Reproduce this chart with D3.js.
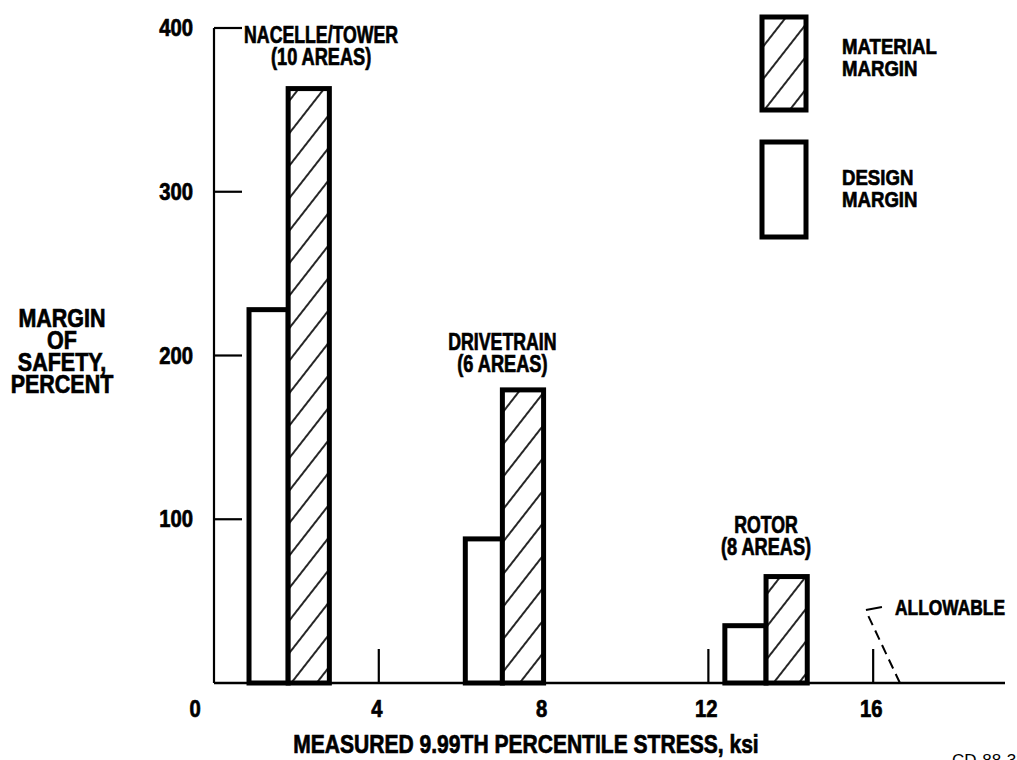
<!DOCTYPE html>
<html>
<head>
<meta charset="utf-8">
<script src="https://cdn.jsdelivr.net/npm/d3@7"></script>
<style>
  html, body { margin: 0; padding: 0; background: #fff; }
  svg { display: block; }
  .lbl { font-family: "Liberation Sans", Arial, sans-serif; font-weight: bold; fill: #000; stroke: #000; stroke-width: 0.7; }
</style>
</head>
<body>
<svg id="chart" width="1017" height="760"></svg>
<script>
// ---- data ----
const groups = ["NACELLE/TOWER", "DRIVETRAIN", "ROTOR"];
const groupAreas = ["(10 AREAS)", "(6 AREAS)", "(8 AREAS)"];
const designMargin = [228, 88, 35];       // percent
const materialMargin = [363, 179, 65];    // percent
const stressStart = [0.85, 6.1, 12.4];    // ksi, left edge of design-margin bar
const stressMid = [1.8, 7.0, 13.4];       // ksi, boundary between bars
const stressEnd = [2.8, 8.0, 14.4];       // ksi, right edge of material-margin bar
const labelStress = [2.6, 7.0, 13.4];     // ksi, centre of group label
const allowableStress = 16.65;            // ksi
const yTicks = [100, 200, 300, 400];
const yTickLabels = ["100", "200", "300", "400"];
const xTicks = [4, 8, 12, 16];
const xTickLabels = ["4", "8", "12", "16"];
const legendLabels = [["MATERIAL", "MARGIN"], ["DESIGN", "MARGIN"]];
const yTitle = ["MARGIN", "OF", "SAFETY,", "PERCENT"];
const xTitle = "MEASURED 9.99TH PERCENTILE STRESS, ksi";

// ---- helpers ----
const svg = d3.select("#chart");
function txt(parent, x, y, s, size, anchor, sx) {
  return parent.append("text").attr("class", "lbl")
    .attr("transform", `translate(${x},${y}) scale(${sx},1)`)
    .attr("text-anchor", anchor).attr("font-size", size).text(s);
}

// ---- scales ----
const x = d3.scaleLinear().domain([0, 19.2]).range([214, 1005]);
const y = d3.scaleLinear().domain([0, 400]).range([683, 28]);

// hatch pattern
const defs = svg.append("defs");
const pat = defs.append("pattern").attr("id", "hatch")
  .attr("patternUnits", "userSpaceOnUse").attr("width", 20).attr("height", 20)
  .attr("patternTransform", "rotate(38)");
pat.append("rect").attr("width", 20).attr("height", 20).attr("fill", "#fff");
pat.append("line").attr("x1", 10).attr("y1", 0).attr("x2", 10).attr("y2", 20)
  .attr("stroke", "#000").attr("stroke-width", 1.7);

// ---- axes ----
const axisG = svg.append("g");
axisG.append("line").attr("x1", x(0)).attr("x2", x(0)).attr("y1", y(400)).attr("y2", y(0))
  .attr("stroke", "#000").attr("stroke-width", 2.2);
axisG.append("line").attr("x1", x(0)).attr("x2", x(19.2)).attr("y1", y(0)).attr("y2", y(0))
  .attr("stroke", "#000").attr("stroke-width", 2.5);
axisG.selectAll(".yt").data(yTicks).join("line")
  .attr("x1", x(0)).attr("x2", x(0) + 28).attr("y1", d => y(d)).attr("y2", d => y(d))
  .attr("stroke", "#000").attr("stroke-width", 2.2);
yTicks.forEach((d, i) => txt(axisG, x(0) - 21, y(d) + 8, yTickLabels[i], 23, "end", 0.88));
axisG.selectAll(".xt").data(xTicks).join("line")
  .attr("x1", d => x(d)).attr("x2", d => x(d)).attr("y1", y(0)).attr("y2", y(0) - 34)
  .attr("stroke", "#000").attr("stroke-width", 2.2);
xTicks.forEach((d, i) => txt(axisG, x(d) - 2, 717, xTickLabels[i], 23, "middle", 0.88));
txt(axisG, x(0) - 19, 717, "0", 23, "middle", 0.88);

// axis titles
txt(svg, 526, 753, xTitle, 26, "middle", 0.81);
yTitle.forEach((s, i) => txt(svg, 62, 327 + i * 22, s, 25, "middle", 0.86));

// ---- bars ----
const barsG = svg.append("g");
groups.forEach((g, i) => {
  barsG.append("rect")
    .attr("x", x(stressStart[i])).attr("width", x(stressMid[i]) - x(stressStart[i]))
    .attr("y", y(designMargin[i])).attr("height", y(0) - y(designMargin[i]))
    .attr("fill", "#fff").attr("stroke", "#000").attr("stroke-width", 5);
  barsG.append("rect")
    .attr("x", x(stressMid[i])).attr("width", x(stressEnd[i]) - x(stressMid[i]))
    .attr("y", y(materialMargin[i])).attr("height", y(0) - y(materialMargin[i]))
    .attr("fill", "url(#hatch)").attr("stroke", "#000").attr("stroke-width", 5);
});

// group labels
const labelTop = [43, 350, 533];
groups.forEach((g, i) => {
  txt(svg, x(labelStress[i]), labelTop[i], g, 23, "middle", 0.77);
  txt(svg, x(labelStress[i]), labelTop[i] + 22, groupAreas[i], 23, "middle", 0.79);
});

// ---- legend ----
const leg = svg.append("g");
const legBoxes = [{y0: 17, y1: 110, fill: "url(#hatch)"}, {y0: 142, y1: 237, fill: "#fff"}];
legBoxes.forEach((b, i) => {
  leg.append("rect").attr("x", 762).attr("y", b.y0).attr("width", 44).attr("height", b.y1 - b.y0)
    .attr("fill", b.fill).attr("stroke", "#000").attr("stroke-width", 5);
  const base = i === 0 ? 54 : 185;
  legendLabels[i].forEach((s, k) => txt(leg, 842, base + k * 22, s, 23, "start", 0.81));
});

// ---- allowable annotation ----
const ann = svg.append("g");
ann.append("line")
  .attr("x1", x(allowableStress)).attr("y1", y(0))
  .attr("x2", x(allowableStress) - 33).attr("y2", y(0) - 70)
  .attr("stroke", "#000").attr("stroke-width", 2).attr("stroke-dasharray", "10,6");
ann.append("line")
  .attr("x1", x(allowableStress) - 34).attr("y1", y(0) - 73)
  .attr("x2", x(allowableStress) - 18).attr("y2", y(0) - 76)
  .attr("stroke", "#000").attr("stroke-width", 2);
txt(ann, 895, 615, "ALLOWABLE", 22, "start", 0.79);

// reference code (cropped at page edge)
svg.append("text").attr("x", 952).attr("y", 766)
  .attr("font-family", "Liberation Sans, Arial, sans-serif").attr("font-size", 17)
  .attr("fill", "#000").text("CD-88-32925");
</script>
</body>
</html>
